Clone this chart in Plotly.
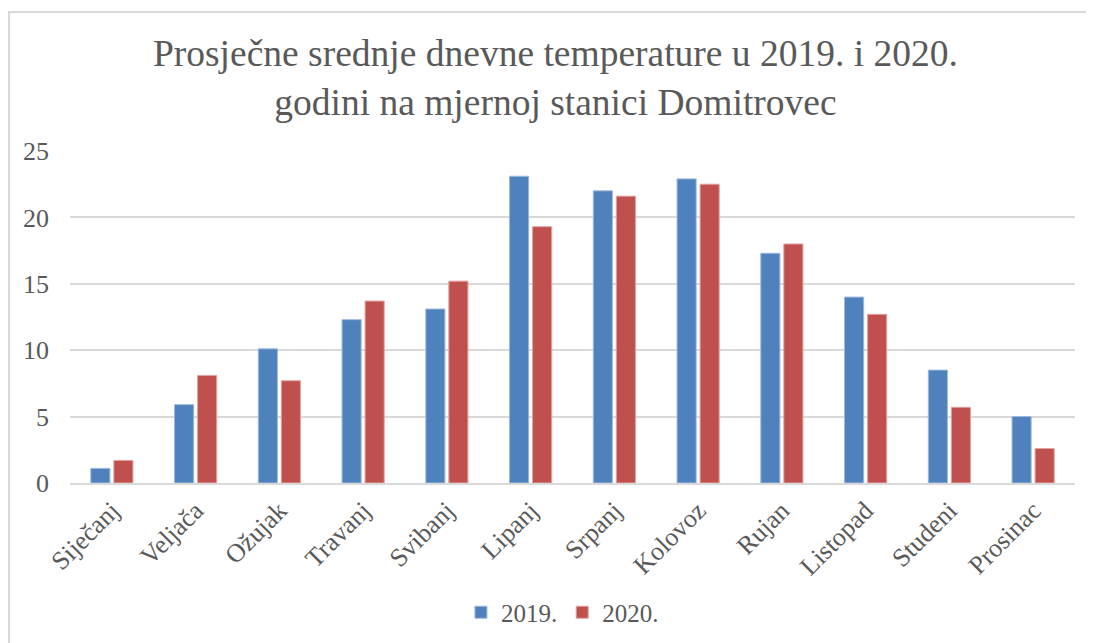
import plotly.graph_objects as go

months = ["Siječanj", "Veljača", "Ožujak", "Travanj", "Svibanj", "Lipanj",
          "Srpanj", "Kolovoz", "Rujan", "Listopad", "Studeni", "Prosinac"]
t2019 = [1.1, 5.9, 10.1, 12.3, 13.1, 23.1, 22.0, 22.9, 17.3, 14.0, 8.5, 5.0]
t2020 = [1.7, 8.1, 7.7, 13.7, 15.2, 19.3, 21.6, 22.5, 18.0, 12.7, 5.7, 2.6]
series_names = ["2019.", "2020."]
y_ticks = [0, 5, 10, 15, 20, 25]

FONT = "Liberation Serif, Times New Roman, serif"
TXT = "#595959"

fig = go.Figure()
fig.add_trace(go.Bar(x=months, y=t2019, name=series_names[0],
                     marker=dict(color="#4F81BD", line=dict(color="#9DB9DE", width=1))))
fig.add_trace(go.Bar(x=months, y=t2020, name=series_names[1],
                     marker=dict(color="#C0504D", line=dict(color="#E0A3A1", width=1))))

fig.update_layout(
    width=1086, height=635,
    paper_bgcolor="white", plot_bgcolor="white",
    margin=dict(l=62, r=19, t=143, b=160, autoexpand=False),
    barmode="group", bargap=0.45, bargroupgap=0.17,
    font=dict(family=FONT, color=TXT),
    title=dict(text="Prosječne srednje dnevne temperature u 2019. i 2020.<br>godini na mjernoj stanici Domitrovec",
               x=0.483, xanchor="center", xref="paper", y=0.908, yanchor="top", yref="container",
               font=dict(family=FONT, size=37.5, color=TXT)),
    legend=dict(orientation="h", x=0.49, xanchor="center", y=-0.39, yanchor="middle",
                font=dict(family=FONT, size=25, color=TXT), itemwidth=30,
                traceorder="normal"),
    showlegend=True,
)
fig.update_xaxes(tickangle=-45, tickfont=dict(family=FONT, size=26, color=TXT),
                 showgrid=False, showline=True, linecolor="#D9D9D9", linewidth=2,
                 ticks="", ticklen=0, automargin=False)
fig.update_yaxes(range=[0, 25], tickvals=y_ticks, tickfont=dict(family=FONT, size=26, color=TXT),
                 showgrid=True, gridcolor="#D9D9D9", gridwidth=2, zeroline=False,
                 showline=False, ticks="", ticklabelstandoff=20, automargin=False)

fig.add_shape(type="rect", xref="paper", yref="paper",
              x0=(1 - 62) / 1005, x1=1.05, y0=-0.6, y1=1 + (143 - 4) / 332,
              line=dict(color="#D9D9D9", width=2), fillcolor="rgba(0,0,0,0)", layer="below")

fig.write_html("out.html")
